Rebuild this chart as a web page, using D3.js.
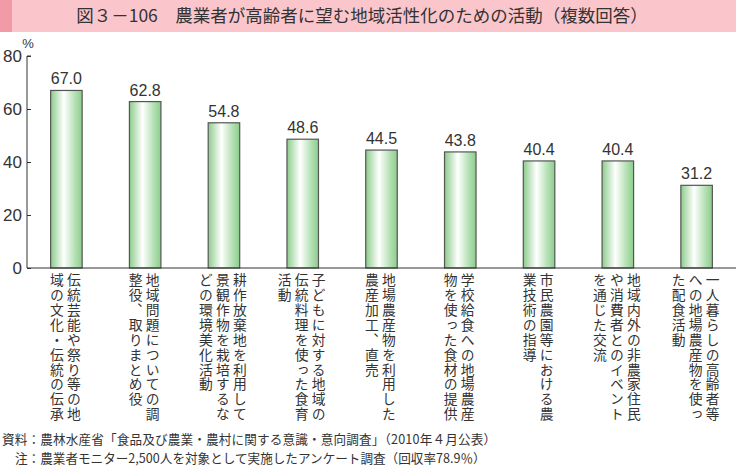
<!DOCTYPE html>
<html><head><meta charset="utf-8">
<script src="https://cdn.jsdelivr.net/npm/d3@7"></script>
<style>
html,body{margin:0;padding:0;background:#fff;}
svg{display:block;}
</style></head>
<body>
<svg id="chart" width="736" height="468"></svg>
<script>
const title = "図３－106　農業者が高齢者に望む地域活性化のための活動（複数回答）";
const categories = [
  ["伝統芸能や祭り等の地","域の文化・伝統の伝承"],
  ["地域問題についての調","整役、取りまとめ役"],
  ["耕作放棄地を利用して","景観作物を栽培するな","どの環境美化活動"],
  ["子どもに対する地域の","伝統料理を使った食育","活動"],
  ["地場農産物を利用した","農産加工、直売"],
  ["学校給食への地場農産","物を使った食材の提供"],
  ["市民農園等における農","業技術の指導"],
  ["地域内外の非農家住民","や消費者とのイベント","を通じた交流"],
  ["一人暮らしの高齢者等","への地場農産物を使っ","た配食活動"]
];
const values = [67.0, 62.8, 54.8, 48.6, 44.5, 43.8, 40.4, 40.4, 31.2];
const yTicks = [0, 20, 40, 60, 80];
const unitLabel = "%";
const notes = [
  "資料：農林水産省「食品及び農業・農村に関する意識・意向調査」（2010年４月公表）",
  "注：農業者モニター2,500人を対象として実施したアンケート調査（回収率78.9％）"
];

const svg = d3.select("#chart");
const W = 736, H = 468;
const jp = "'Noto Sans CJK JP', 'Noto Sans', sans-serif";
const latin = "'Liberation Sans', Arial, sans-serif";

// Title bar
svg.append("rect").attr("x",0).attr("y",0).attr("width",W).attr("height",32).attr("fill","#fac6cb");
svg.append("rect").attr("x",0).attr("y",0).attr("width",12).attr("height",32).attr("fill","#f29ba6");
svg.append("text").attr("x",362).attr("y",22).attr("text-anchor","middle")
  .attr("font-family",jp).attr("font-size",17.5).attr("fill","#333").text(title);

// Gradient
const defs = svg.append("defs");
const g = defs.append("linearGradient").attr("id","barGrad").attr("x1","0").attr("x2","1").attr("y1","0").attr("y2","0");
[[0,"#8ccc8c"],[0.42,"#ffffff"],[0.75,"#b8e2b8"],[1,"#8ccc8c"]].forEach(([o,c])=>g.append("stop").attr("offset",o).attr("stop-color",c));

const x0 = 27, x1 = 736, yTop = 56, yBot = 268;
const x = d3.scaleBand().domain(d3.range(values.length)).range([x0, x1]).paddingInner(0.6).paddingOuter(0.3);
const y = d3.scaleLinear().domain([0, 80]).range([yBot, yTop]);

// Y axis
const yAxis = d3.axisRight(y).tickValues(yTicks).tickSize(4).tickFormat("");
const ya = svg.append("g").attr("transform",`translate(${x0},0)`).call(yAxis);
ya.select(".domain").attr("stroke","#333").attr("d",`M4,${yTop}H0V${yBot}`);
ya.selectAll(".tick line").attr("stroke","#333");
svg.append("g").selectAll("text").data(yTicks).join("text")
  .attr("x",22).attr("y",d=>y(d)+6).attr("text-anchor","end")
  .attr("font-family",latin).attr("font-size",17).attr("fill","#333").text(d=>d);
svg.append("text").attr("x",28).attr("y",48).attr("text-anchor","middle")
  .attr("font-family",latin).attr("font-size",13).attr("fill","#333").text(unitLabel);

// Bars
svg.append("g").selectAll("rect").data(values).join("rect")
  .attr("x",(d,i)=>x(i)).attr("y",d=>y(d)).attr("width",x.bandwidth()).attr("height",d=>yBot-y(d))
  .attr("fill","url(#barGrad)").attr("stroke","#555").attr("stroke-width",1.2);

// Value labels
svg.append("g").selectAll("text").data(values).join("text")
  .attr("x",(d,i)=>x(i)+x.bandwidth()/2).attr("y",d=>y(d)-6).attr("text-anchor","middle")
  .attr("font-family",latin).attr("font-size",16).attr("fill","#333").text(d=>d.toFixed(1));

// X axis line
svg.append("line").attr("x1",x0).attr("x2",x1).attr("y1",yBot).attr("y2",yBot).attr("stroke","#333").attr("stroke-width",1.2);

// Vertical category labels
const gap = 17;
categories.forEach((lines, i) => {
  const cx = x(i) + x.bandwidth()/2 - 1;
  const n = lines.length;
  lines.forEach((ln, j) => {
    svg.append("text")
      .attr("x", cx + (n-1)/2*gap - j*gap)
      .attr("y", 273)
      .attr("font-family", jp).attr("font-size", 13.8).attr("fill","#333")
      .style("writing-mode","vertical-rl").style("text-orientation","upright")
      .style("letter-spacing","1.1px")
      .text(ln);
  });
});

// Notes
svg.append("text").attr("x",2).attr("y",444).attr("font-family",jp).attr("font-size",12.6).attr("fill","#333").attr("textLength",494).text(notes[0]);
svg.append("text").attr("x",15).attr("y",462.5).attr("font-family",jp).attr("font-size",12.6).attr("fill","#333").text(notes[1]);
</script>
</body></html>
